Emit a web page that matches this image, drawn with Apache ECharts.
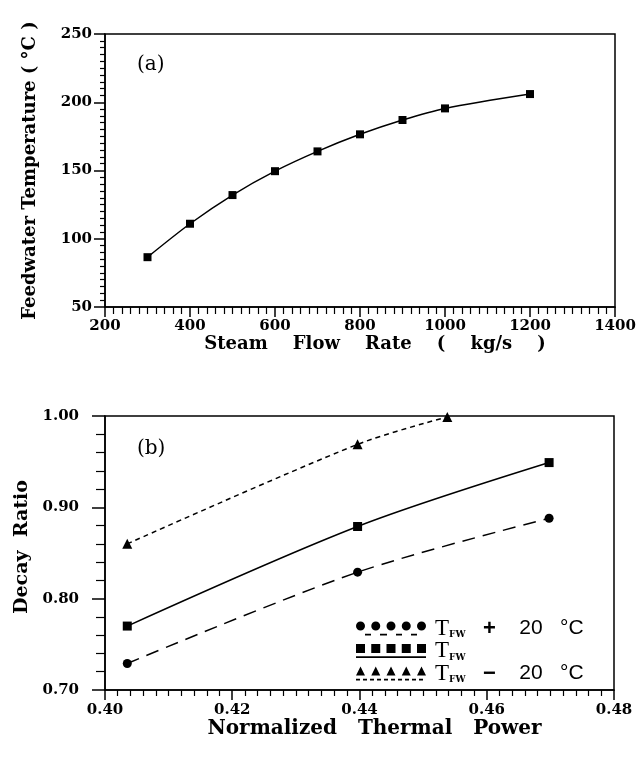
<!DOCTYPE html>
<html>
<head>
<meta charset="utf-8">
<script src="https://cdn.jsdelivr.net/npm/echarts@6/dist/echarts.min.js"></script>
<style>
  html, body { margin: 0; padding: 0; background: #fff; }
  #chart { width: 639px; height: 760px; }
</style>
</head>
<body>
<div id="chart"></div>
<script>
// (a) feedwater temperature vs steam flow
const flowRate = [300, 400, 500, 600, 700, 800, 900, 1000, 1200];
const feedTemp = [86.5, 111, 132, 149.5, 164, 176.5, 187, 195.5, 206];

// (b) decay ratio vs normalized thermal power
const powerPlus = [0.4035, 0.4397, 0.4698];
const decayPlus = [0.729, 0.829, 0.888];
const powerNom = [0.4035, 0.4397, 0.4698];
const decayNom = [0.770, 0.879, 0.949];
const powerMinus = [0.4035, 0.4397, 0.4538];
const decayMinus = [0.860, 0.969, 0.999];

const legendNames = ['T_FW + 20', 'T_FW', 'T_FW - 20'];

const pair = (xs, ys) => xs.map((x, i) => [x, ys[i]]);

// legend icons: five symbols with a line underneath, drawn as one path
function polyCircle(cx, cy, r) {
    let d = '';
    for (let k = 0; k < 16; k++) {
        const a = k / 16 * Math.PI * 2;
        d += (k ? 'L' : 'M') + (cx + r * Math.cos(a)).toFixed(2) + ' ' + (cy + r * Math.sin(a)).toFixed(2);
    }
    return d + 'Z';
}
function rect(x0, y0, x1, y1) {
    return 'M' + x0 + ' ' + y0 + 'L' + x1 + ' ' + y0 + 'L' + x1 + ' ' + y1 + 'L' + x0 + ' ' + y1 + 'Z';
}
const centers = [4.5, 19.75, 35, 50.25, 65.5];
let iconCircle = 'path://';
centers.forEach(c => { iconCircle += polyCircle(c, 4.5, 4.5); });
[[9, 15], [24, 31], [40, 46], [55, 61]].forEach(s => { iconCircle += rect(s[0], 12.2, s[1], 14); });

let iconSquare = 'path://';
centers.forEach(c => { iconSquare += rect(c - 4.5, 0, c + 4.5, 9); });
iconSquare += rect(0, 12.2, 70, 14);

let iconTri = 'path://';
centers.forEach(c => { iconTri += 'M' + (c - 4.5) + ' 9L' + (c + 4.5) + ' 9L' + c + ' 0Z'; });
for (let x = 0; x < 70; x += 7) { iconTri += rect(x, 12.2, x + 4, 14); }

const serif = 'DejaVu Serif';
const tickLabel = { color: '#000', fontFamily: serif, fontWeight: 'bold', fontSize: 15 };
const axisLine = { lineStyle: { color: '#000', width: 1.5 } };
const nameStyle = { color: '#000', fontFamily: serif, fontWeight: 'bold', fontSize: 18 };
const nameStyleB = { color: '#000', fontFamily: serif, fontWeight: 'bold', fontSize: 20 };

const chart = echarts.init(document.getElementById('chart'));
const option = {
    backgroundColor: '#fff',
    animation: false,
    title: [
        { text: '(a)', left: 132, top: 50, textStyle: { fontFamily: serif, fontWeight: 'normal', fontSize: 20, color: '#000' } },
        { text: '(b)', left: 132, top: 434, textStyle: { fontFamily: serif, fontWeight: 'normal', fontSize: 20, color: '#000' } }
    ],
    grid: [
        { left: 105, right: 24, top: 34, height: 273, show: true, borderColor: '#000', borderWidth: 1.5, outerBoundsMode: 'none' },
        { left: 105, right: 25, top: 416, height: 274, show: true, borderColor: '#000', borderWidth: 1.5, outerBoundsMode: 'none' }
    ],
    xAxis: [
        {
            gridIndex: 0, type: 'value', min: 200, max: 1400, interval: 200,
            name: 'Steam    Flow    Rate    (    kg/s    )', nameLocation: 'middle', nameGap: 28,
            nameTextStyle: Object.assign({ padding: [0, 0, 0, 30] }, nameStyle),
            axisLine: axisLine, axisTick: { length: 10, lineStyle: { color: '#000', width: 1.5 } },
            minorTick: { show: true, splitNumber: 10, length: 7, lineStyle: { color: '#000', width: 1.2 } },
            axisLabel: Object.assign({ margin: 12, formatter: v => String(v) }, tickLabel),
            splitLine: { show: false }
        },
        {
            gridIndex: 1, type: 'value', min: 0.40, max: 0.48, interval: 0.02,
            name: 'Normalized   Thermal   Power', nameLocation: 'middle', nameGap: 29,
            nameTextStyle: Object.assign({ padding: [0, 0, 0, 30] }, nameStyleB),
            axisLine: axisLine, axisTick: { length: 10, lineStyle: { color: '#000', width: 1.5 } },
            minorTick: { show: true, splitNumber: 10, length: 6, lineStyle: { color: '#000', width: 1.2 } },
            axisLabel: Object.assign({ margin: 13, formatter: v => v.toFixed(2) }, tickLabel),
            splitLine: { show: false }
        }
    ],
    yAxis: [
        {
            gridIndex: 0, type: 'value', min: 50, max: 250, interval: 50,
            name: 'Feedwater Temperature ( °C )', nameLocation: 'middle', nameGap: 66,
            nameTextStyle: nameStyle,
            axisLine: axisLine, axisTick: { length: 11, lineStyle: { color: '#000', width: 1.5 } },
            minorTick: { show: true, splitNumber: 10, length: 5, lineStyle: { color: '#000', width: 1.2 } },
            axisLabel: Object.assign({ margin: 13 }, tickLabel),
            splitLine: { show: false }
        },
        {
            gridIndex: 1, type: 'value', min: 0.70, max: 1.00, interval: 0.1,
            name: 'Decay  Ratio', nameLocation: 'middle', nameGap: 63,
            nameTextStyle: Object.assign({ padding: [0, 0, 0, 12] }, nameStyleB, { fontSize: 19 }),
            axisLine: axisLine, axisTick: { length: 13, lineStyle: { color: '#000', width: 1.5 } },
            minorTick: { show: true, splitNumber: 5, length: 9, lineStyle: { color: '#000', width: 1.2 } },
            axisLabel: Object.assign({ margin: 26, formatter: v => v.toFixed(2) }, tickLabel),
            splitLine: { show: false }
        }
    ],
    legend: {
        orient: 'vertical', left: 351, top: 612,
        itemWidth: 70, itemHeight: 14, itemGap: -0.5,
        data: [
            { name: legendNames[0], icon: iconCircle },
            { name: legendNames[1], icon: iconSquare },
            { name: legendNames[2], icon: iconTri }
        ],
        formatter: function (name) {
            if (name === legendNames[0]) return '{t|T}{s|FW}{n|   }{p|+}{n|    20   °C}';
            if (name === legendNames[1]) return '{t|T}{s|FW}';
            return '{t|T}{s|FW}{n|   }{p|−}{n|    20   °C}';
        },
        textStyle: {
            color: '#000',
            rich: {
                t: { fontFamily: 'Liberation Serif', fontSize: 23, color: '#000', padding: [0, 0, 0, 4], lineHeight: 22 },
                s: { fontFamily: serif, fontWeight: 'bold', fontSize: 9, color: '#000', verticalAlign: 'bottom', lineHeight: 12 },
                p: { fontFamily: 'Liberation Sans', fontWeight: 'bold', fontSize: 22, color: '#000', lineHeight: 22 },
                n: { fontFamily: 'Liberation Sans', fontSize: 21, color: '#000', lineHeight: 22 }
            }
        }
    },
    series: [
        {
            type: 'line', xAxisIndex: 0, yAxisIndex: 0,
            data: pair(flowRate, feedTemp),
            smooth: 0.3, symbol: 'rect', symbolSize: 8,
            lineStyle: { color: '#000', width: 1.5 }, itemStyle: { color: '#000' }
        },
        {
            name: legendNames[0], type: 'line', xAxisIndex: 1, yAxisIndex: 1, clip: false,
            data: pair(powerPlus, decayPlus),
            smooth: 0.3, symbol: 'circle', symbolSize: 9,
            lineStyle: { color: '#000', width: 1.5, type: [13, 8] }, itemStyle: { color: '#000' }
        },
        {
            name: legendNames[1], type: 'line', xAxisIndex: 1, yAxisIndex: 1, clip: false,
            data: pair(powerNom, decayNom),
            smooth: 0.3, symbol: 'rect', symbolSize: 9,
            lineStyle: { color: '#000', width: 1.5 }, itemStyle: { color: '#000' }
        },
        {
            name: legendNames[2], type: 'line', xAxisIndex: 1, yAxisIndex: 1, clip: false,
            data: pair(powerMinus, decayMinus),
            smooth: 0.3, symbol: 'triangle', symbolSize: 10,
            lineStyle: { color: '#000', width: 1.5, type: [5, 4] }, itemStyle: { color: '#000' }
        }
    ]
};
chart.setOption(option);
</script>
</body>
</html>
